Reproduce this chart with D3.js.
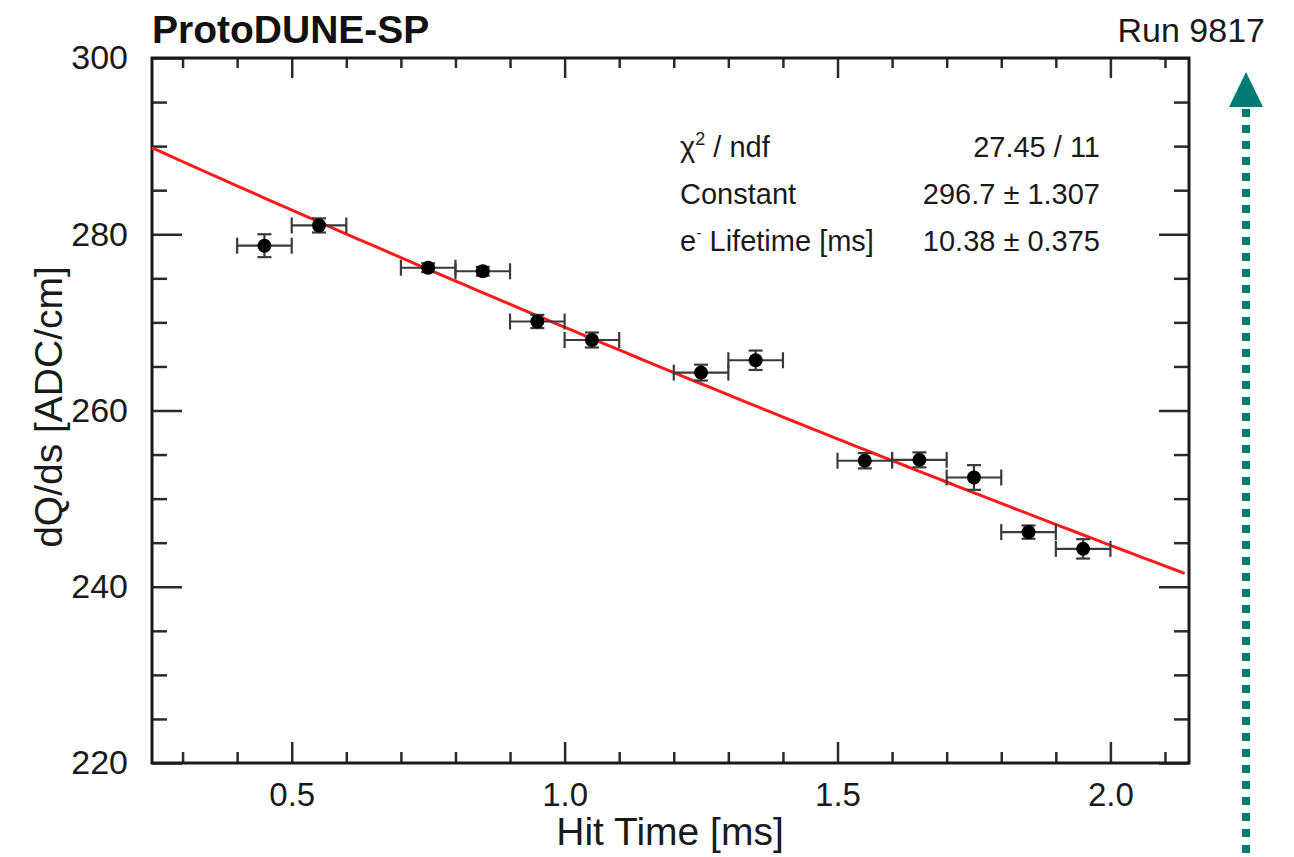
<!DOCTYPE html>
<html>
<head>
<meta charset="utf-8">
<script src="https://cdn.jsdelivr.net/npm/d3@7"></script>
<style>
  body { margin: 0; background: #fff; }
  svg { display: block; font-family: "Liberation Sans", Arial, Helvetica, sans-serif; }
</style>
</head>
<body>
<div id="chart"></div>
<script>
// measured points (bin centre, half bin width, dQ/ds, error)
const hitTime = [0.45, 0.55, 0.75, 0.85, 0.95, 1.05, 1.25, 1.35, 1.55, 1.65, 1.75, 1.85, 1.95];
const hitTimeErr = [0.05, 0.05, 0.05, 0.05, 0.05, 0.05, 0.05, 0.05, 0.05, 0.05, 0.05, 0.05, 0.05];
const dqds = [278.7, 281.0, 276.2, 275.8, 270.1, 268.0, 264.3, 265.7, 254.3, 254.4, 252.4, 246.2, 244.3];
const dqdsErr = [1.3, 0.8, 0.5, 0.5, 0.75, 0.85, 0.9, 1.1, 0.87, 0.85, 1.4, 0.75, 1.1];

// fit result
const fitConstant = 296.7;
const fitLifetime = 10.38;
const statNames = ["/ ndf", "Constant", " Lifetime [ms]"];
const statValues = ["27.45 / 11", "296.7 \u00b1 1.307", "10.38 \u00b1 0.375"];

const xMajor = [0.5, 1.0, 1.5, 2.0];
const yMajor = [220, 240, 260, 280, 300];

const W = 1294, H = 857;
const frame = { left: 152, right: 1189, top: 58, bottom: 763 };

const svg = d3.select("#chart").append("svg")
    .attr("width", W)
    .attr("height", H);

const x = d3.scaleLinear().domain([0.244, 2.144]).range([frame.left, frame.right]);
const y = d3.scaleLinear().domain([220, 300]).range([frame.bottom, frame.top]);

const xMinor = d3.range(0.3, 2.15, 0.1).map(v => +v.toFixed(2)).filter(v => !xMajor.some(m => Math.abs(m - v) < 1e-6));
const yMinor = d3.range(220, 301, 5).filter(v => !yMajor.includes(v));

function tickAxis(axis, cls) {
    const g = svg.append("g").attr("class", cls).call(axis);
    g.select(".domain").remove();
    g.selectAll("line").attr("stroke", "#2a2a2a").attr("stroke-width", 2.5);
    return g;
}

// bottom
const bottom = tickAxis(d3.axisBottom(x).tickValues(xMajor).tickSize(-21).tickPadding(36)
    .tickFormat(d3.format(".1f")), "xaxis")
    .attr("transform", `translate(0,${frame.bottom})`);
bottom.selectAll("text").attr("font-size", 33).attr("fill", "#1a1a1a").attr("dy", "0").attr("y", 43);
tickAxis(d3.axisBottom(x).tickValues(xMinor).tickSize(-11).tickFormat(""), "xminor")
    .attr("transform", `translate(0,${frame.bottom})`);
// top
tickAxis(d3.axisTop(x).tickValues(xMajor).tickSize(-20).tickFormat(""), "xtop")
    .attr("transform", `translate(0,${frame.top})`);
tickAxis(d3.axisTop(x).tickValues(xMinor).tickSize(-10).tickFormat(""), "xtopminor")
    .attr("transform", `translate(0,${frame.top})`);
// left
const left = tickAxis(d3.axisLeft(y).tickValues(yMajor).tickSize(-30).tickPadding(24)
    .tickFormat(d3.format("d")), "yaxis")
    .attr("transform", `translate(${frame.left},0)`);
left.selectAll("text").attr("font-size", 34).attr("fill", "#1a1a1a").attr("x", -24);
tickAxis(d3.axisLeft(y).tickValues(yMinor).tickSize(-15).tickFormat(""), "yminor")
    .attr("transform", `translate(${frame.left},0)`);
// right
tickAxis(d3.axisRight(y).tickValues(yMajor).tickSize(-30).tickFormat(""), "yright")
    .attr("transform", `translate(${frame.right},0)`);
tickAxis(d3.axisRight(y).tickValues(yMinor).tickSize(-15).tickFormat(""), "yrightminor")
    .attr("transform", `translate(${frame.right},0)`);

// frame
svg.append("rect")
    .attr("x", frame.left).attr("y", frame.top)
    .attr("width", frame.right - frame.left).attr("height", frame.bottom - frame.top)
    .attr("fill", "none").attr("stroke", "#1a1a1a").attr("stroke-width", 3);

// fit curve
const fitX = d3.range(0, 101).map(i => x.domain()[0] + (x.domain()[1] - x.domain()[0] - 0.008) * i / 100);
const fitLine = d3.line()
    .x(t => x(t))
    .y(t => y(fitConstant * Math.exp(-t / fitLifetime)));
svg.append("path")
    .datum(fitX)
    .attr("d", fitLine)
    .attr("fill", "none")
    .attr("stroke", "#ff1a1a")
    .attr("stroke-width", 3);

// error bars + markers
const pts = hitTime.map((t, i) => ({ t, te: hitTimeErr[i], v: dqds[i], ve: dqdsErr[i] }));
const pg = svg.append("g").attr("stroke", "#3a3a3a").attr("stroke-width", 2.2);
pts.forEach(d => {
    const cx = x(d.t), cy = y(d.v);
    const x0 = x(d.t - d.te), x1 = x(d.t + d.te);
    const y0 = y(d.v - d.ve), y1 = y(d.v + d.ve);
    pg.append("line").attr("x1", x0).attr("x2", x1).attr("y1", cy).attr("y2", cy);
    pg.append("line").attr("x1", x0).attr("x2", x0).attr("y1", cy - 8).attr("y2", cy + 8);
    pg.append("line").attr("x1", x1).attr("x2", x1).attr("y1", cy - 8).attr("y2", cy + 8);
    pg.append("line").attr("x1", cx).attr("x2", cx).attr("y1", y0).attr("y2", y1);
    pg.append("line").attr("x1", cx - 7).attr("x2", cx + 7).attr("y1", y0).attr("y2", y0);
    pg.append("line").attr("x1", cx - 7).attr("x2", cx + 7).attr("y1", y1).attr("y2", y1);
});
svg.append("g").selectAll("circle")
    .data(pts)
    .join("circle")
    .attr("cx", d => x(d.t))
    .attr("cy", d => y(d.v))
    .attr("r", 7)
    .attr("fill", "#000");

// stats box
const statY = [157, 204, 251];
const stats = svg.append("g").attr("font-size", 29).attr("fill", "#1a1a1a");
stats.selectAll("text.name")
    .data(statNames)
    .join("text")
    .attr("class", "name")
    .attr("x", 680)
    .attr("y", (d, i) => statY[i])
    .each(function (d, i) {
        const t = d3.select(this);
        if (i === 0) {
            t.append("tspan").text("\u03c7");
            t.append("tspan").attr("font-size", 18).attr("dy", -12).text("2");
            t.append("tspan").attr("dy", 12).text(" " + d);
        } else if (i === 2) {
            t.append("tspan").text("e");
            t.append("tspan").attr("font-size", 16).attr("dy", -13).text("-");
            t.append("tspan").attr("dy", 13).text(d);
        } else {
            t.text(d);
        }
    });
stats.selectAll("text.val")
    .data(statValues)
    .join("text")
    .attr("class", "val")
    .attr("x", 1100)
    .attr("y", (d, i) => statY[i])
    .attr("text-anchor", "end")
    .text(d => d);

// titles
svg.append("text")
    .attr("x", 152).attr("y", 43)
    .attr("font-size", 39).attr("font-weight", "bold").attr("fill", "#111")
    .text("ProtoDUNE-SP");
svg.append("text")
    .attr("x", 1265).attr("y", 42)
    .attr("text-anchor", "end")
    .attr("font-size", 34).attr("fill", "#1a1a1a")
    .text("Run 9817");
svg.append("text")
    .attr("x", 670).attr("y", 845)
    .attr("text-anchor", "middle")
    .attr("font-size", 39).attr("fill", "#1a1a1a")
    .text("Hit Time [ms]");
svg.append("text")
    .attr("transform", "translate(62,407) rotate(-90)")
    .attr("text-anchor", "middle")
    .attr("font-size", 39).attr("fill", "#1a1a1a")
    .text("dQ/ds [ADC/cm]");

// dotted arrow on the right
const teal = "#007a74";
svg.append("line")
    .attr("x1", 1246).attr("x2", 1246)
    .attr("y1", 109).attr("y2", 857)
    .attr("stroke", teal)
    .attr("stroke-width", 8)
    .attr("stroke-dasharray", "8 8");
svg.append("path")
    .attr("d", "M1246,72 L1263,107 L1229,107 Z")
    .attr("fill", teal);
</script>
</body>
</html>
